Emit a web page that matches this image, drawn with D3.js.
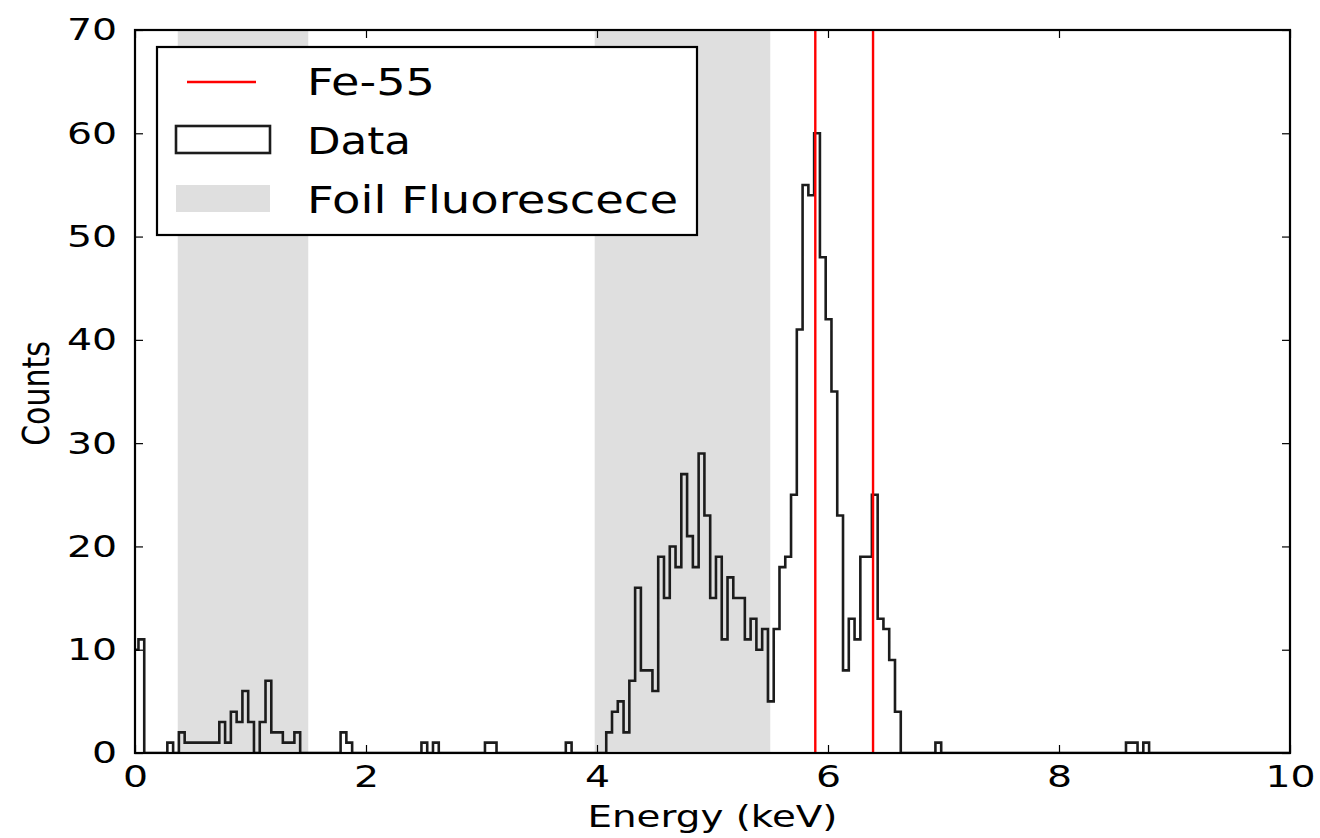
<!DOCTYPE html>
<html>
<head>
<meta charset="utf-8">
<script src="https://cdn.jsdelivr.net/npm/d3@7"></script>
<style>
  body { margin: 0; background: #fff; }
  text { font-family: "DejaVu Sans", sans-serif; fill: #000; }
</style>
</head>
<body>
<svg id="chart" width="1320" height="838"></svg>
<script>
// ---------------- data ----------------
const binStart = -0.02;   // keV, left edge of first histogram bin
const binWidth = 0.05;    // keV
// counts per bin
const counts = [
  10,11, 0, 0, 0, 0, 1, 0, 2, 1, 1, 1, 1, 1, 1, 3, 1, 4, 3, 6,
   3, 0, 3, 7, 2, 2, 1, 1, 2, 0, 0, 0, 0, 0, 0, 0, 2, 1, 0, 0,
   0, 0, 0, 0, 0, 0, 0, 0, 0, 0, 1, 0, 1, 0, 0, 0, 0, 0, 0, 0,
   0, 1, 1, 0, 0, 0, 0, 0, 0, 0, 0, 0, 0, 0, 0, 1, 0, 0, 0, 0,
   0, 0, 2, 4, 5, 2, 7,16, 8, 8, 6,19,15,20,18,27,21,18,29,23,
  15,19,11,17,15,15,11,13,10,12, 5,12,18,19,25,41,55,54,60,48,
  42,35,23, 8,13,11,19,19,25,13,12, 9, 4, 0, 0, 0, 0, 0, 0, 1,
   0, 0, 0, 0, 0, 0, 0, 0, 0, 0, 0, 0, 0, 0, 0, 0, 0, 0, 0, 0,
   0, 0, 0, 0, 0, 0, 0, 0, 0, 0, 0, 0, 1, 1, 0, 1, 0, 0, 0, 0,
   0, 0, 0, 0, 0, 0, 0, 0, 0, 0, 0, 0, 0, 0, 0, 0, 0, 0, 0, 0, 0
];
const foilBands = [[0.37, 1.5], [3.98, 5.5]];   // keV
const feLines = [5.89, 6.39];                    // keV
const xTicks = [0, 2, 4, 6, 8, 10];
const yTicks = [0, 10, 20, 30, 40, 50, 60, 70];
const legendLabels = ["Fe-55", "Data", "Foil Fluorescece"];

// ---------------- layout ----------------
const S = 1.27; // horizontal stretch of glyphs seen in the reference
const M = { l: 135, r: 1290, t: 30, b: 753 };
const svg = d3.select("#chart");
svg.append("rect").attr("width", 1320).attr("height", 838).attr("fill", "#fff");

const x = d3.scaleLinear().domain([0, 10]).range([M.l, M.r]);
const y = d3.scaleLinear().domain([0, 70]).range([M.b, M.t]);

svg.append("defs").append("clipPath").attr("id", "clip")
  .append("rect").attr("x", M.l).attr("y", M.t)
  .attr("width", M.r - M.l).attr("height", M.b - M.t);

const plot = svg.append("g").attr("clip-path", "url(#clip)");

plot.selectAll("rect.band").data(foilBands).join("rect")
  .attr("class", "band")
  .attr("x", d => x(d[0])).attr("width", d => x(d[1]) - x(d[0]))
  .attr("y", M.t).attr("height", M.b - M.t)
  .attr("fill", "#dfdfdf");

const pts = [[binStart, 0]];
counts.forEach((c, i) => pts.push([binStart + i * binWidth, c]));
pts.push([binStart + counts.length * binWidth, 0]);
const line = d3.line().x(d => x(d[0])).y(d => y(d[1])).curve(d3.curveStepAfter);
plot.append("path").attr("d", line(pts))
  .attr("fill", "none").attr("stroke", "#1c1c1c").attr("stroke-width", 2.6);

plot.selectAll("line.fe").data(feLines).join("line")
  .attr("class", "fe")
  .attr("x1", d => x(d)).attr("x2", d => x(d))
  .attr("y1", M.t).attr("y2", M.b)
  .attr("stroke", "#ff0000").attr("stroke-width", 2.4);

// ---------------- axes ----------------
function styleAxis(g) {
  g.select(".domain").remove();
  g.attr("font-family", "DejaVu Sans").attr("font-size", 31);
  g.selectAll(".tick line").attr("stroke", "#000").attr("stroke-width", 1.2);
  g.selectAll(".tick text").attr("fill", "#111");
}
const gx = svg.append("g").attr("transform", `translate(0,${M.b})`)
  .call(d3.axisBottom(x).tickValues(xTicks).tickSizeInner(-8).tickSizeOuter(0)
        .tickPadding(12).tickFormat(d3.format("d")));
styleAxis(gx);
gx.selectAll(".tick text").attr("transform", `scale(${S},1)`);

const gxt = svg.append("g").attr("transform", `translate(0,${M.t})`)
  .call(d3.axisTop(x).tickValues(xTicks).tickSizeInner(-8).tickSizeOuter(0).tickFormat(""));
styleAxis(gxt);

const gy = svg.append("g").attr("transform", `translate(${M.l},0)`)
  .call(d3.axisLeft(y).tickValues(yTicks).tickSizeInner(-8).tickSizeOuter(0)
        .tickPadding(18).tickFormat(d3.format("d")));
styleAxis(gy);
gy.selectAll(".tick text").attr("x", -18 / S).attr("transform", `scale(${S},1)`);

const gyr = svg.append("g").attr("transform", `translate(${M.r},0)`)
  .call(d3.axisRight(y).tickValues(yTicks).tickSizeInner(-8).tickSizeOuter(0).tickFormat(""));
styleAxis(gyr);

svg.append("rect").attr("x", M.l).attr("y", M.t)
  .attr("width", M.r - M.l).attr("height", M.b - M.t)
  .attr("fill", "none").attr("stroke", "#000").attr("stroke-width", 2.2);

// axis titles
svg.append("text").attr("x", (M.l + M.r) / 2).attr("y", 827)
  .attr("text-anchor", "middle").attr("font-size", 30).attr("fill", "#111")
  .attr("textLength", 250).attr("lengthAdjust", "spacingAndGlyphs")
  .text("Energy (keV)");
svg.append("g").attr("transform", `translate(49,${(M.t + M.b) / 2 + 2}) scale(${S},1) rotate(-90)`)
  .append("text").attr("text-anchor", "middle").attr("font-size", 30).attr("fill", "#111")
  .text("Counts");

// ---------------- legend ----------------
const lg = svg.append("g");
lg.append("rect").attr("x", 157).attr("y", 47).attr("width", 540).attr("height", 188)
  .attr("fill", "#fff").attr("stroke", "#000").attr("stroke-width", 2.2);
lg.append("line").attr("x1", 187).attr("x2", 256).attr("y1", 82).attr("y2", 82)
  .attr("stroke", "#ff0000").attr("stroke-width", 2.4);
lg.append("rect").attr("x", 176).attr("y", 126).attr("width", 94).attr("height", 27)
  .attr("fill", "#fff").attr("stroke", "#1c1c1c").attr("stroke-width", 2.6);
lg.append("rect").attr("x", 176).attr("y", 185).attr("width", 94).attr("height", 27)
  .attr("fill", "#dfdfdf");
const lgY = [95, 154, 213];
const lgW = [128, 104, 371];
lg.selectAll("text.lt").data(legendLabels).join("text")
  .attr("class", "lt")
  .attr("x", 307).attr("y", (d, i) => lgY[i])
  .attr("font-size", 37).attr("fill", "#111")
  .attr("textLength", (d, i) => lgW[i]).attr("lengthAdjust", "spacingAndGlyphs")
  .text(d => d);
</script>
</body>
</html>
